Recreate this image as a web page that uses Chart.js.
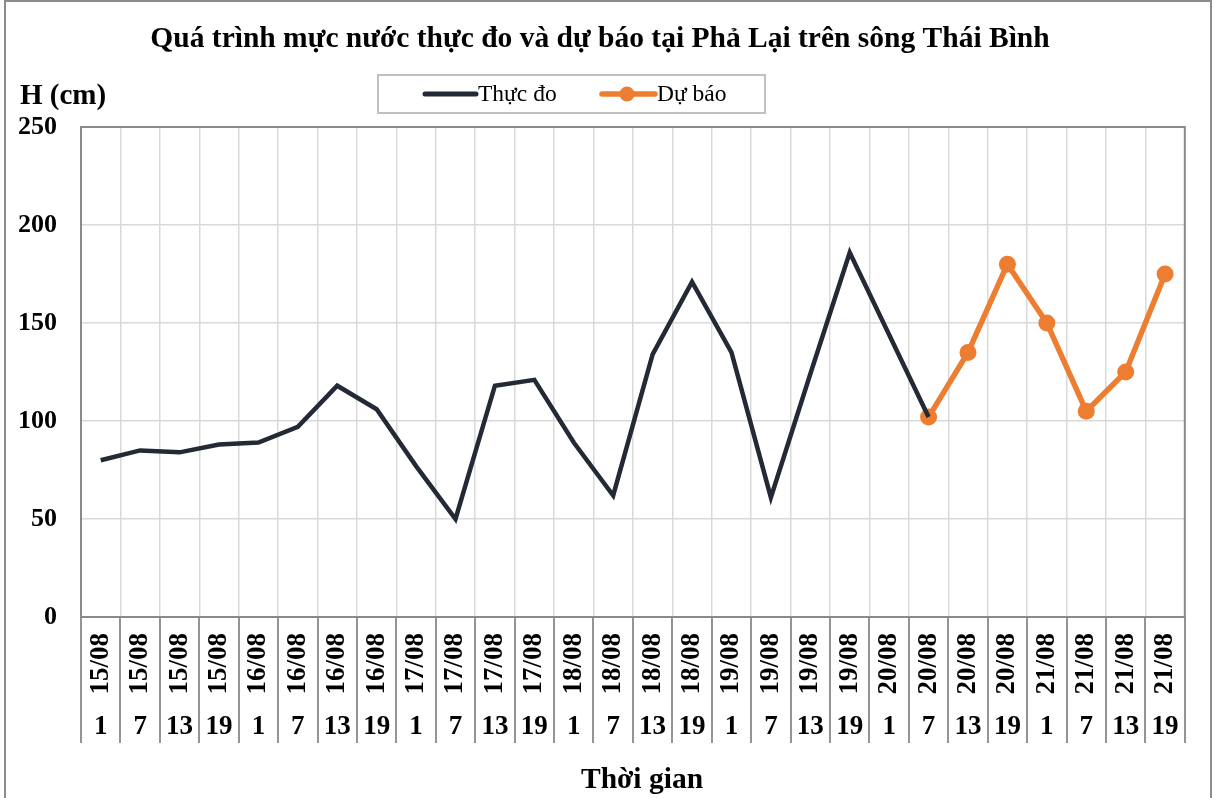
<!DOCTYPE html>
<html>
<head>
<meta charset="utf-8">
<script src="https://cdn.jsdelivr.net/npm/chart.js@4.4.1/dist/chart.umd.min.js"></script>
<style>
  html, body { margin: 0; padding: 0; background: #fff; }
  #wrap { width: 1214px; height: 798px; }
</style>
</head>
<body>
<div id="wrap"><canvas id="waterLevelChart" width="1214" height="798"></canvas></div>
<script>
// Categories: date (rotated row) and hour (bottom row)
const dates = [
  '15/08', '15/08', '15/08', '15/08',
  '16/08', '16/08', '16/08', '16/08',
  '17/08', '17/08', '17/08', '17/08',
  '18/08', '18/08', '18/08', '18/08',
  '19/08', '19/08', '19/08', '19/08',
  '20/08', '20/08', '20/08', '20/08',
  '21/08', '21/08', '21/08', '21/08'
];
const hours = [
  '1', '7', '13', '19', '1', '7', '13', '19', '1', '7', '13', '19', '1', '7',
  '13', '19', '1', '7', '13', '19', '1', '7', '13', '19', '1', '7', '13', '19'
];

// Water level (cm)
const observed = [
  80, 85, 84, 88, 89, 97, 118, 106, 77, 50, 118, 121, 89, 62,
  134, 171, 135, 61, 124, 186, 144, 102, null, null, null, null, null, null
];
const forecast = [
  null, null, null, null, null, null, null, null, null, null, null, null, null, null,
  null, null, null, null, null, null, null, 102, 135, 180, 150, 105, 125, 175
];
const yTicks = [0, 50, 100, 150, 200, 250];

const titleText = 'Quá trình mực nước thực đo và dự báo tại Phả Lại trên sông Thái Bình';
const seriesNames = ['Thực đo', 'Dự báo'];
const seriesColors = ['#232a35', '#ed7d31'];

const SERIF = "'Liberation Serif', 'Times New Roman', serif";

// Frame, separators, titles and legend box
const decorations = {
  id: 'decorations',
  beforeDraw(chart) {
    const ctx = chart.ctx;
    ctx.save();
    ctx.fillStyle = '#ffffff';
    ctx.fillRect(0, 0, chart.width, chart.height);
    ctx.restore();
  },
  afterDraw(chart) {
    const { ctx, chartArea: a } = chart;
    const bottom = chart.scales.x2.bottom;
    const step = (a.right - a.left) / dates.length;
    ctx.save();

    // outer border
    ctx.strokeStyle = '#8c8c8c';
    ctx.lineWidth = 2;
    ctx.strokeRect(5, 1, chart.width - 8, chart.height + 4);

    // plot border
    ctx.strokeStyle = '#898989';
    ctx.lineWidth = 2;
    ctx.strokeRect(a.left, a.top, a.right - a.left, a.bottom - a.top);

    // category separators under the axis
    ctx.lineWidth = 1.8;
    for (let i = 0; i <= dates.length; i++) {
      const px = Math.round(a.left + i * step);
      ctx.beginPath();
      ctx.moveTo(px, a.bottom);
      ctx.lineTo(px, bottom);
      ctx.stroke();
    }

    // title
    ctx.fillStyle = '#000';
    ctx.textAlign = 'center';
    ctx.textBaseline = 'middle';
    ctx.font = 'bold 29.5px ' + SERIF;
    ctx.fillText(titleText, 600, 39);

    // axis titles
    ctx.fillText('Thời gian', 642, 780);
    ctx.textAlign = 'left';
    ctx.font = 'bold 29px ' + SERIF;
    ctx.fillText('H (cm)', 20, 97);

    // legend
    ctx.strokeStyle = '#c0c0c0';
    ctx.lineWidth = 2;
    ctx.strokeRect(378, 75, 387, 38);
    ctx.font = '23.5px ' + SERIF;
    ctx.lineCap = 'round';

    ctx.strokeStyle = seriesColors[0];
    ctx.lineWidth = 5;
    ctx.beginPath();
    ctx.moveTo(425, 94);
    ctx.lineTo(476, 94);
    ctx.stroke();
    ctx.fillText(seriesNames[0], 478, 95);

    ctx.strokeStyle = seriesColors[1];
    ctx.lineWidth = 5.5;
    ctx.beginPath();
    ctx.moveTo(602, 94);
    ctx.lineTo(655, 94);
    ctx.stroke();
    ctx.fillStyle = seriesColors[1];
    ctx.beginPath();
    ctx.arc(627, 94, 7.5, 0, Math.PI * 2);
    ctx.fill();
    ctx.fillStyle = '#000';
    ctx.fillText(seriesNames[1], 657, 95);

    ctx.restore();
  }
};

const ctx = document.getElementById('waterLevelChart');

new Chart(ctx, {
  type: 'line',
  data: {
    labels: dates,
    datasets: [
      {
        label: seriesNames[0],
        data: observed,
        borderColor: seriesColors[0],
        backgroundColor: seriesColors[0],
        borderWidth: 4.5,
        pointRadius: 0,
        pointHoverRadius: 0,
        tension: 0,
        spanGaps: false
      },
      {
        label: seriesNames[1],
        data: forecast,
        borderColor: seriesColors[1],
        backgroundColor: seriesColors[1],
        borderWidth: 5.5,
        pointRadius: 8.5,
        pointBorderWidth: 0,
        pointHoverRadius: 8.5,
        tension: 0
      }
    ]
  },
  options: {
    responsive: false,
    animation: false,
    events: [],
    layout: {
      padding: { top: 127, right: 28, bottom: 55, left: 0 }
    },
    plugins: {
      legend: { display: false },
      title: { display: false },
      tooltip: { enabled: false }
    },
    scales: {
      x: {
        type: 'category',
        position: 'bottom',
        weight: 0,
        offset: true,
        grid: { color: '#d9d9d9', lineWidth: 1.5, offset: true, drawTicks: false },
        border: { display: false },
        ticks: {
          autoSkip: false,
          minRotation: 90,
          maxRotation: 90,
          padding: 16,
          color: '#000',
          font: { family: SERIF, size: 27, weight: 'bold' }
        },
        afterFit(scale) { scale.height = 78; }
      },
      x2: {
        type: 'category',
        labels: hours,
        position: 'bottom',
        weight: 1,
        offset: true,
        grid: { display: false, drawTicks: false },
        border: { display: false },
        ticks: {
          autoSkip: false,
          maxRotation: 0,
          padding: 16,
          color: '#000',
          font: { family: SERIF, size: 27, weight: 'bold' }
        },
        afterFit(scale) { scale.height = 48; }
      },
      y: {
        min: yTicks[0],
        max: yTicks[yTicks.length - 1],
        afterBuildTicks(scale) {
          scale.ticks = yTicks.map(v => ({ value: v }));
        },
        grid: { color: '#d9d9d9', lineWidth: 1.5, drawTicks: false },
        border: { display: false },
        ticks: {
          padding: 24,
          color: '#000',
          font: { family: SERIF, size: 26, weight: 'bold' }
        },
        afterFit(scale) { scale.width = 81; }
      }
    }
  },
  plugins: [decorations]
});
</script>
</body>
</html>
